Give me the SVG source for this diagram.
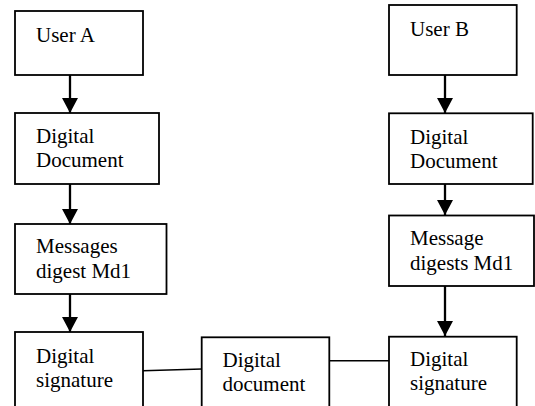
<svg xmlns="http://www.w3.org/2000/svg" width="535" height="406" viewBox="0 0 535 406">
<style>
.box{fill:#fff;stroke:#000;stroke-width:1.8}
.t{font-family:'Liberation Serif',Tinos,'Times New Roman',Times,'DejaVu Serif',serif;font-size:21px;fill:#000}
.arr{stroke:#000;stroke-width:2.3;fill:none}
.ln{stroke:#000;stroke-width:1.6;fill:none}
</style>
<defs>
<marker id="ah" markerUnits="userSpaceOnUse" markerWidth="16" markerHeight="16" viewBox="0 0 16 16" refX="15" refY="8" orient="auto">
<path d="M0,0 L15,8 L0,16 Z" fill="#000"/>
</marker>
</defs>
<rect width="535" height="406" fill="#fff"/>
<g id="connectors">
<line class="arr" x1="70" y1="75" x2="70" y2="113" marker-end="url(#ah)"/>
<line class="arr" x1="70" y1="184" x2="70" y2="224" marker-end="url(#ah)"/>
<line class="arr" x1="70" y1="294" x2="70" y2="332" marker-end="url(#ah)"/>
<line class="arr" x1="445" y1="75" x2="445" y2="113" marker-end="url(#ah)"/>
<line class="arr" x1="445" y1="184" x2="445" y2="215" marker-end="url(#ah)"/>
<line class="arr" x1="445" y1="286" x2="445" y2="336" marker-end="url(#ah)"/>
<line class="ln" x1="143" y1="370.7" x2="202" y2="369"/>
<line class="ln" x1="329" y1="360.7" x2="389" y2="360.7"/>
</g>
<g id="userA">
<rect class="box" x="15" y="11" width="128" height="64"/>
<text class="t" x="36" y="42" font-family="Liberation Serif, serif">User A</text>
</g>
<g id="docA">
<rect class="box" x="15" y="113" width="144" height="71"/>
<text class="t" x="36" y="143">Digital</text>
<text class="t" x="36" y="167">Document</text>
</g>
<g id="mdA">
<rect class="box" x="15" y="224" width="151.5" height="70"/>
<text class="t" x="36" y="253">Messages</text>
<text class="t" x="36" y="278">digest Md1</text>
</g>
<g id="sigA">
<rect class="box" x="15" y="332" width="128" height="90"/>
<text class="t" x="36" y="362.5">Digital</text>
<text class="t" x="36" y="386.5">signature</text>
</g>
<g id="docMid">
<rect class="box" x="201.7" y="337.3" width="127.6" height="90"/>
<text class="t" x="222.5" y="366.5">Digital</text>
<text class="t" x="222.5" y="390.5">document</text>
</g>
<g id="userB">
<rect class="box" x="389" y="5" width="127.7" height="70"/>
<text class="t" x="410" y="35.5">User B</text>
</g>
<g id="docB">
<rect class="box" x="389" y="113.3" width="143.7" height="70.7"/>
<text class="t" x="410" y="144">Digital</text>
<text class="t" x="410" y="167.5">Document</text>
</g>
<g id="mdB">
<rect class="box" x="389" y="215.5" width="145" height="70.5"/>
<text class="t" x="410" y="245">Message</text>
<text class="t" x="410" y="270">digests Md1</text>
</g>
<g id="sigB">
<rect class="box" x="389" y="336.7" width="127.7" height="90"/>
<text class="t" x="410" y="366">Digital</text>
<text class="t" x="410" y="390">signature</text>
</g>
</svg>
